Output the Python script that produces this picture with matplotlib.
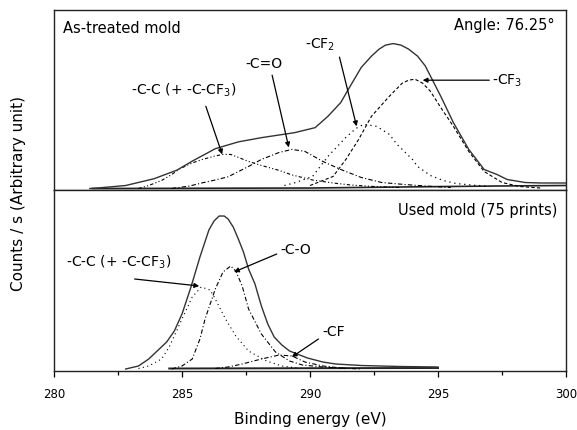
#!/usr/bin/python
'''
C1s XPS spectra of the mold surface, before and after use.
Two stacked panels share the binding energy axis; each holds the
fitted envelope plus its component peaks (values read off the plot).
'''

import matplotlib
matplotlib.use('Agg')
import matplotlib.pyplot as plt

plt.rcParams['font.family'] = ['DejaVu Sans']
plt.rcParams['mathtext.fontset'] = 'dejavusans'

# ---- top panel: as-treated mold ----
topEnvX = [281.4, 281.7, 282.8, 283.9, 284.8, 285.4, 286.3, 287.2, 288.1, 289.4,
           290.2, 290.7, 291.2, 291.5, 292.0, 292.4, 292.7, 292.95, 293.25, 293.55,
           293.85, 294.2, 294.5, 295.1, 295.6, 296.2, 296.8, 297.3, 297.7, 298.4,
           299.0, 300.0]
topEnvY = [0, 0.5, 3, 9.7, 18.3, 27.3, 39.7, 46.5, 50.7, 55.7,
           60.7, 72, 85.7, 99, 120.7, 132, 139, 143, 144.5, 143,
           139, 132, 122.3, 92.3, 65.7, 39, 19, 14, 9, 6,
           5.5, 5.5]

topCCX = [283.3, 283.7, 284.2, 284.6, 284.9, 285.4, 285.8, 286.3, 286.6, 286.9,
          287.6, 288.1, 288.8, 289.3, 290.1, 290.9, 291.6, 292.5, 293.5]
topCCY = [0, 3, 8, 14, 19.5, 25.5, 29, 32.5, 34, 34,
          27, 23, 18, 13.5, 8.5, 5.5, 3.5, 2, 1]

topCOX = [284.6, 285.3, 285.8, 286.3, 286.8, 287.6, 288.1, 288.8, 289.3, 289.8,
          290.5, 291.2, 292.0, 292.8, 293.7, 294.5, 295.5]
topCOY = [0, 2.5, 5.7, 8.5, 11.7, 22, 29, 36, 39, 37,
          27, 19, 11, 6, 4, 2.5, 1]

topCF2X = [289.0, 289.4, 290.1, 290.7, 291.4, 291.8, 292.1, 292.6, 293.1, 293.4,
           294.0, 294.2, 294.7, 295.2, 295.7, 296.3, 297.0]
topCF2Y = [3, 5.7, 12, 32, 51, 60, 64, 62, 54, 44,
           29, 22, 13, 8, 5, 3.5, 2]

topCF3X = [290.0, 290.9, 291.4, 291.9, 292.4, 293.1, 293.6, 293.85, 294.1, 294.4,
           294.7, 295.1, 295.6, 296.2, 296.8, 297.5, 298.2, 299.0]
topCF3Y = [3, 12, 29, 49, 72, 92, 105, 108, 109, 105,
           97, 81, 62, 37, 17, 6, 2, 0.5]

topBaseX = [281.5, 290.0, 293.5, 297.3, 300.0]
topBaseY = [0, 0.5, 1.5, 2.5, 3]

# ---- bottom panel: used mold (75 prints) ----
botEnvX = [282.8, 283.3, 283.7, 284.4, 284.7, 285.0, 285.35, 285.7, 286.05, 286.25,
           286.45, 286.65, 286.8, 287.0, 287.2, 287.4, 287.6, 287.85, 288.1, 288.35,
           288.6, 288.9, 289.2, 289.9, 290.5, 291.0, 292.0, 293.5, 295.0]
botEnvY = [0, 3, 10, 27, 38, 55, 82, 112, 139, 148,
           153, 153, 150, 142, 130, 117, 100, 85, 63, 45,
           32, 24, 18, 11, 7, 5, 3.5, 2.5, 2]

botCCX = [283.3, 283.7, 284.2, 284.5, 285.0, 285.4, 285.75, 286.1, 286.3, 286.7,
          287.1, 287.6, 288.3, 288.9, 289.5]
botCCY = [0.5, 3, 10, 22, 50, 72, 82, 79, 70, 50,
          33, 18, 8, 3, 1]

botCOX = [284.6, 285.0, 285.4, 285.7, 285.9, 286.3, 286.6, 286.9, 287.1, 287.35,
          287.6, 288.1, 288.65, 289.2, 289.7, 290.5, 291.5]
botCOY = [0, 3, 10, 30, 50, 80, 97, 103, 98, 83,
          60, 35, 17, 8, 4, 2, 0.5]

botCFX = [286.3, 286.8, 287.35, 288.1, 288.8, 289.3, 289.8, 290.5, 291.2, 292.0]
botCFY = [0.5, 2, 5, 10, 14, 13, 7, 3, 1, 0]

botBaseX = [284.5, 290.0, 295.0]
botBaseY = [0.5, 0.8, 1]

xTicks = [280, 285, 290, 295, 300]

env = dict(color='#333333', lw=1.0, ls='-')
dotted = (0, (1, 3))
dashed = (0, (3, 2))
dashDot = (0, (4, 2, 1, 2))
dashDotDot = (0, (3, 2, 1, 2, 1, 2))


def arrow(ax, tip, tail):
    '''plain arrow with a small filled head, no text'''
    ax.annotate('', xy=tip, xytext=tail,
                arrowprops=dict(arrowstyle='-|>', color='k', lw=0.9,
                                mutation_scale=7, shrinkA=0, shrinkB=0))


fig = plt.figure(figsize=(5.77, 4.31), dpi=100)
top = fig.add_axes([0.0936, 0.5568, 0.8874, 0.4177])
bot = fig.add_axes([0.0936, 0.1369, 0.8874, 0.4199], sharex=top)

# top panel
top.plot(topBaseX, topBaseY, color='#222222', lw=1.2)
top.plot(topCCX, topCCY, color='k', lw=0.8, ls=dashDotDot)
top.plot(topCOX, topCOY, color='k', lw=0.8, ls=dashDot)
top.plot(topCF2X, topCF2Y, color='k', lw=0.9, ls=dotted)
top.plot(topCF3X, topCF3Y, color='k', lw=0.8, ls=dashed)
top.plot(topEnvX, topEnvY, **env)
top.set_ylim(-1.5, 178)

top.text(285.05, 99, '-C-C (+ -C-CF$_3$)', fontsize=10, ha='center', va='center')
arrow(top, (286.57, 34), (285.93, 82))
top.text(288.2, 125, '-C=O', fontsize=10, ha='center', va='center')
arrow(top, (289.17, 41), (288.52, 113))
top.text(290.4, 144, '-CF$_2$', fontsize=10, ha='center', va='center')
arrow(top, (291.82, 62), (291.15, 131))
top.text(297.1, 108, '-CF$_3$', fontsize=10, ha='left', va='center')
arrow(top, (294.4, 108), (297.0, 108))
top.text(280.35, 161, 'As-treated mold', fontsize=10.5, va='center')
top.text(299.55, 164, 'Angle: 76.25\u00b0', fontsize=10.5, va='center', ha='right')

# bottom panel
bot.plot(botBaseX, botBaseY, color='#222222', lw=1.4)
bot.plot(botCCX, botCCY, color='k', lw=0.8, ls=dotted)
bot.plot(botCOX, botCOY, color='k', lw=0.8, ls=dashDot)
bot.plot(botCFX, botCFY, color='k', lw=0.8, ls=dashDot)
bot.plot(botEnvX, botEnvY, **env)
bot.set_ylim(-2, 179)

bot.text(280.45, 108, '-C-C (+ -C-CF$_3$)', fontsize=10, va='center')
arrow(bot, (285.67, 83), (283.15, 90))
bot.text(288.85, 120, '-C-O', fontsize=10, va='center')
arrow(bot, (287.03, 97), (288.7, 115))
bot.text(290.5, 38, '-CF', fontsize=10, va='center')
arrow(bot, (289.29, 12), (290.33, 30))
bot.text(299.65, 160, 'Used mold (75 prints)', fontsize=10.5, va='center', ha='right')

for ax in (top, bot):
    ax.set_yticks([])
    for s in ax.spines.values():
        s.set_linewidth(1.0)
        s.set_color('#222222')

top.tick_params(axis='x', which='both', bottom=False, labelbottom=False)
bot.set_xlim(280, 300)
bot.set_xticks(xTicks)
bot.set_xticks([282.5, 287.5, 292.5, 297.5], minor=True)
bot.tick_params(axis='x', which='major', direction='out', length=4.5,
                width=0.9, labelsize=8.5, pad=7)
bot.tick_params(axis='x', which='minor', direction='out', length=3, width=0.9)
bot.set_xlabel('Binding energy (eV)', fontsize=11, labelpad=8)
fig.text(0.032, 0.55, 'Counts / s (Arbitrary unit)', rotation=90,
         fontsize=11, ha='center', va='center')

fig.savefig('out.png', dpi=100)
